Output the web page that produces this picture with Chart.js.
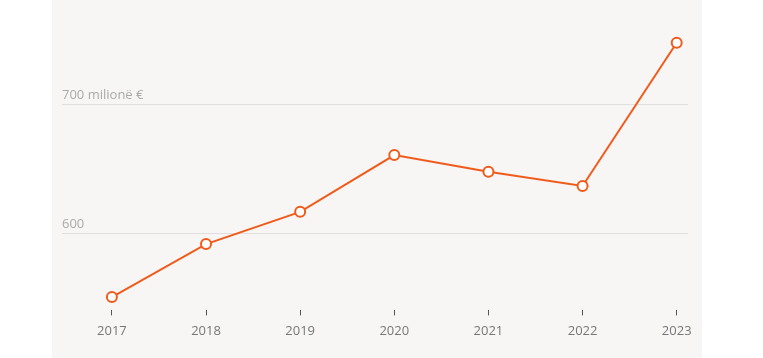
<!DOCTYPE html>
<html>
<head>
<meta charset="utf-8">
<script src="https://cdn.jsdelivr.net/npm/chart.js@4/dist/chart.umd.min.js"></script>
<style>
  html, body { margin: 0; padding: 0; background: #ffffff; }
  #wrap { position: relative; width: 763px; height: 358px; }
</style>
</head>
<body>
<div id="wrap"><canvas id="myChart" width="763" height="358"></canvas></div>
<script>
// Data
var years = [2017, 2018, 2019, 2020, 2021, 2022, 2023];
var values = [551, 592, 617, 661, 648, 637, 748];
var yTicks = [600, 700];
var yTickLabels = ['600', '700 milionë €'];

var orange = '#f05a1a';

// light panel behind the plot
var panelBg = {
  id: 'panelBg',
  beforeDraw: function (chart) {
    var ctx = chart.ctx;
    ctx.save();
    ctx.fillStyle = '#f7f6f4';
    ctx.fillRect(52, 0, 650, chart.height);
    ctx.restore();
  }
};

var points = [];
for (var i = 0; i < years.length; i++) {
  points.push({ x: years[i], y: values[i] });
}

var ctx = document.getElementById('myChart').getContext('2d');
var chart = new Chart(ctx, {
  type: 'line',
  data: {
    datasets: [{
      data: points,
      borderColor: orange,
      borderWidth: 2,
      backgroundColor: '#ffffff',
      pointBackgroundColor: '#ffffff',
      pointBorderColor: orange,
      pointBorderWidth: 2,
      pointRadius: 5,
      tension: 0,
      fill: false
    }]
  },
  options: {
    responsive: false,
    animation: false,
    events: [],
    layout: { padding: { left: 62, right: 75, top: 20, bottom: 11 } },
    plugins: { legend: { display: false }, tooltip: { enabled: false } },
    scales: {
      x: {
        type: 'linear',
        min: 2016.47,
        max: 2023.12,
        afterBuildTicks: function (axis) {
          axis.ticks = years.map(function (y) { return { value: y }; });
        },
        grid: { drawOnChartArea: false, drawTicks: true, tickLength: 5, color: '#555555', tickWidth: 1 },
        border: { display: false },
        ticks: {
          color: '#777777',
          padding: 8,
          font: { family: '"Open Sans", sans-serif', size: 13 },
          callback: function (v) { return String(v); }
        }
      },
      y: {
        min: 540.625,
        max: 765.625,
        afterBuildTicks: function (axis) {
          axis.ticks = yTicks.map(function (v) { return { value: v }; });
        },
        grid: { color: '#e0dfdd', lineWidth: 1, drawTicks: false },
        border: { display: false },
        ticks: {
          mirror: true,
          padding: 0,
          labelOffset: -9,
          color: '#aaaaaa',
          font: { family: '"Open Sans", sans-serif', size: 13 },
          callback: function (v) {
            var idx = yTicks.indexOf(v);
            return idx >= 0 ? yTickLabels[idx] : '';
          }
        }
      }
    }
  },
  plugins: [panelBg]
});
</script>
</body>
</html>
